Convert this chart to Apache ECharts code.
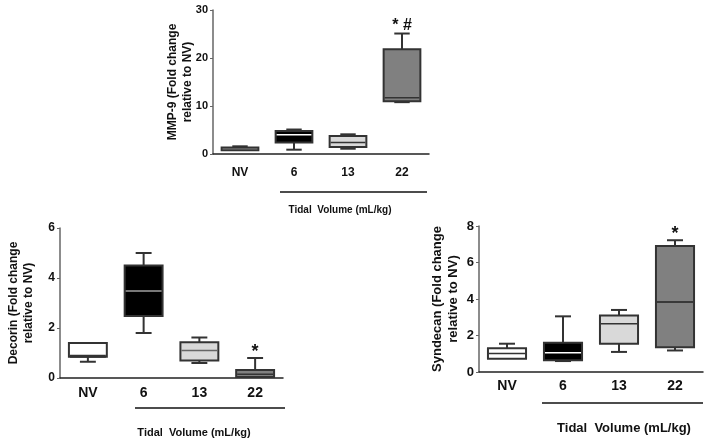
<!DOCTYPE html>
<html>
<head>
<meta charset="utf-8">
<script src="https://cdn.jsdelivr.net/npm/echarts@6/dist/echarts.min.js"></script>
<style>
html,body{margin:0;padding:0;background:#fff;}
#chart{width:709px;height:444px;}
</style>
</head>
<body>
<div id="chart"></div>
<script>
// ---- data ----
const categories = ['NV', '6', '13', '22'];
// [min, Q1, median, Q3, max]
const mmp9 = [
  [0.8, 0.8, 1.0, 1.35, 1.6],
  [0.9, 2.4, 4.0, 4.8, 5.1],
  [1.1, 1.45, 2.4, 3.75, 4.1],
  [10.8, 11.0, 11.7, 21.8, 25.1]
];
const decorin = [
  [0.65, 0.85, 0.87, 1.4, 1.4],
  [1.8, 2.48, 3.48, 4.5, 5.0],
  [0.6, 0.7, 1.1, 1.43, 1.62],
  [0.02, 0.04, 0.15, 0.32, 0.8]
];
const syndecan = [
  [0.72, 0.72, 1.02, 1.3, 1.55],
  [0.6, 0.65, 1.05, 1.6, 3.05],
  [1.1, 1.55, 2.65, 3.1, 3.4],
  [1.18, 1.35, 3.84, 6.9, 7.22]
];
const mmp9Marks = ['', '', '', '* #'];
const decorinMarks = ['', '', '', '*'];
const syndecanMarks = ['', '', '', '*'];
const yTicksMmp9 = [0, 30, 10];
const yTicksDecorin = [0, 6, 2];
const yTicksSyndecan = [0, 8, 2];
const xTitle = 'Tidal  Volume (mL/kg)';
const yTitleMmp9 = 'MMP-9 (Fold change\nrelative to NV)';
const yTitleDecorin = 'Decorin (Fold change\nrelative to NV)';
const yTitleSyndecan = 'Syndecan (Fold change\nrelative to NV)';

// ---- styles ----
const FONT = "'Liberation Sans',Arial,sans-serif";
const panelStyles = [
  { fills: ['#a3a3a3', '#000000', '#d9d9d9', '#808080'], medians: ['#555555', '#ffffff', '#333333', '#333333'], medW: [1.5, 1.5, 1.5, 1.5], markSize: 16, markOff: 0 },
  { fills: ['#ffffff', '#000000', '#d9d9d9', '#808080'], medians: ['#333333', '#a0a0a0', '#666666', '#333333'], medW: [3, 1.5, 1.5, 1.5], markSize: 18, markOff: 3 },
  { fills: ['#ffffff', '#000000', '#d9d9d9', '#808080'], medians: ['#333333', '#ffffff', '#333333', '#222222'], medW: [1.5, 1.5, 1.5, 1.5], markSize: 18, markOff: 3 }
];
const marksList = [mmp9Marks, decorinMarks, syndecanMarks];

function toData(arr) {
  return arr.map((v, i) => [i].concat(v));
}

function makeRender(panel) {
  return function (params, api) {
    const st = panelStyles[panel];
    const i = api.value(0);
    const x = api.coord([i, 0])[0];
    const yv = k => api.coord([i, api.value(k)])[1];
    const band = api.size([1, 0])[0];
    const bw = band * 0.68;
    const cw = bw * 0.42;
    const yMin = yv(1), yQ1 = yv(2), yMed = yv(3), yQ3 = yv(4), yMax = yv(5);
    const lineStyle = { stroke: '#333333', lineWidth: 2, fill: null };
    const children = [];
    if (yMax < yQ3 - 0.5) {
      children.push({ type: 'line', shape: { x1: x, y1: yQ3, x2: x, y2: yMax }, style: lineStyle });
      children.push({ type: 'line', shape: { x1: x - cw / 2, y1: yMax, x2: x + cw / 2, y2: yMax }, style: lineStyle });
    }
    if (yMin > yQ1 + 0.5) {
      children.push({ type: 'line', shape: { x1: x, y1: yQ1, x2: x, y2: yMin }, style: lineStyle });
      children.push({ type: 'line', shape: { x1: x - cw / 2, y1: yMin, x2: x + cw / 2, y2: yMin }, style: lineStyle });
    }
    children.push({
      type: 'rect',
      shape: { x: x - bw / 2, y: yQ3, width: bw, height: Math.max(yQ1 - yQ3, 1) },
      style: { fill: st.fills[i], stroke: '#333333', lineWidth: 2 }
    });
    children.push({
      type: 'line',
      shape: { x1: x - bw / 2 + 1, y1: yMed, x2: x + bw / 2 - 1, y2: yMed },
      style: { stroke: st.medians[i], lineWidth: st.medW[i] }
    });
    const mark = marksList[panel][i];
    if (mark) {
      children.push({
        type: 'text',
        style: {
          x: x, y: yMax + st.markOff, text: mark, align: 'center', verticalAlign: 'bottom',
          font: 'bold ' + st.markSize + 'px ' + FONT, fill: '#111'
        }
      });
    }
    return { type: 'group', children: children };
  };
}

const grids = [
  { left: 213, top: 10, width: 216, height: 144 },
  { left: 60, top: 228, width: 223, height: 150 },
  { left: 479, top: 226, width: 224, height: 146 }
];
const tickSets = [yTicksMmp9, yTicksDecorin, yTicksSyndecan];
const yTitles = [yTitleMmp9, yTitleDecorin, yTitleSyndecan];
const tickFont = [11, 12, 13];
const catFont = [12, 14, 14];
const catMargin = [13, 8, 7];
const nameFont = [12, 12, 13];
const nameGap = [18, 24, 18];
const datasets = [mmp9, decorin, syndecan];
const titleFont = [10, 11, 13];

const xAxes = grids.map((g, k) => ({
  type: 'category', gridIndex: k, data: categories,
  axisTick: { show: false },
  axisLine: { lineStyle: { color: '#222222', width: 1.5 } },
  axisLabel: { fontFamily: FONT, fontWeight: 'bold', fontSize: catFont[k], color: '#111', margin: catMargin[k] }
}));
const yAxes = grids.map((g, k) => ({
  type: 'value', gridIndex: k, min: tickSets[k][0], max: tickSets[k][1], interval: tickSets[k][2],
  splitLine: { show: false },
  axisLine: { show: true, lineStyle: { color: '#666666', width: 1.5 } },
  axisTick: { show: true, length: 3, lineStyle: { color: '#666666' } },
  axisLabel: { fontFamily: FONT, fontWeight: 'bold', fontSize: tickFont[k], color: '#111', margin: 5 },
  name: yTitles[k], nameLocation: 'middle', nameRotate: 90, nameGap: nameGap[k],
  nameMoveOverlap: false,
  nameTextStyle: { fontFamily: FONT, fontWeight: 'bold', fontSize: nameFont[k], color: '#111', lineHeight: nameFont[k] + 3 }
}));
const series = datasets.map((d, k) => ({
  type: 'custom', xAxisIndex: k, yAxisIndex: k,
  data: toData(d),
  encode: { x: 0, y: [1, 2, 3, 4, 5] },
  renderItem: makeRender(k),
  silent: true
}));

const chart = echarts.init(document.getElementById('chart'), null, { renderer: 'canvas' });
chart.setOption({
  animation: false,
  backgroundColor: '#ffffff',
  grid: grids,
  xAxis: xAxes,
  yAxis: yAxes,
  series: series,
  graphic: [
    { type: 'line', shape: { x1: 280, y1: 192, x2: 427, y2: 192 }, style: { stroke: '#111', lineWidth: 1.5 } },
    { type: 'text', x: 340, y: 210, style: { text: xTitle, align: 'center', verticalAlign: 'middle', font: 'bold ' + titleFont[0] + 'px ' + FONT, fill: '#111' } },
    { type: 'line', shape: { x1: 135, y1: 408, x2: 285, y2: 408 }, style: { stroke: '#111', lineWidth: 1.5 } },
    { type: 'text', x: 194, y: 433, style: { text: xTitle, align: 'center', verticalAlign: 'middle', font: 'bold ' + titleFont[1] + 'px ' + FONT, fill: '#111' } },
    { type: 'line', shape: { x1: 542, y1: 403, x2: 703, y2: 403 }, style: { stroke: '#111', lineWidth: 1.5 } },
    { type: 'text', x: 624, y: 428, style: { text: xTitle, align: 'center', verticalAlign: 'middle', font: 'bold ' + titleFont[2] + 'px ' + FONT, fill: '#111' } }
  ]
});
</script>
</body>
</html>
